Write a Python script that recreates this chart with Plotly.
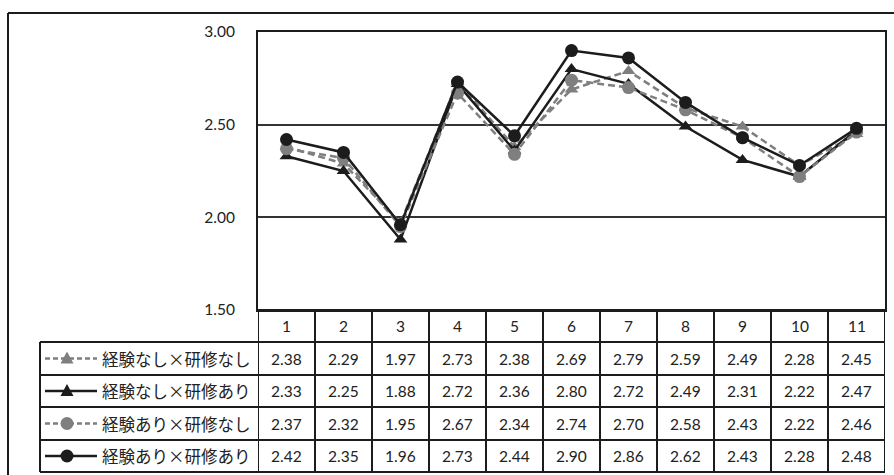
import plotly.graph_objects as go

categories = [1, 2, 3, 4, 5, 6, 7, 8, 9, 10, 11]
series_names = ["経験なし×研修なし", "経験なし×研修あり", "経験あり×研修なし", "経験あり×研修あり"]
s_nn = [2.38, 2.29, 1.97, 2.73, 2.38, 2.69, 2.79, 2.59, 2.49, 2.28, 2.45]
s_na = [2.33, 2.25, 1.88, 2.72, 2.36, 2.80, 2.72, 2.49, 2.31, 2.22, 2.47]
s_an = [2.37, 2.32, 1.95, 2.67, 2.34, 2.74, 2.70, 2.58, 2.43, 2.22, 2.46]
s_aa = [2.42, 2.35, 1.96, 2.73, 2.44, 2.90, 2.86, 2.62, 2.43, 2.28, 2.48]
y_ticks = [1.5, 2.0, 2.5, 3.0]

series_values = [s_nn, s_na, s_an, s_aa]
GRAY = "#7f7f7f"
BLACK = "#1c1c1c"
styles = [
    dict(color=GRAY, dash="7px,4px", symbol="triangle-up", size=12),
    dict(color=BLACK, dash="solid", symbol="triangle-up", size=12),
    dict(color=GRAY, dash="7px,4px", symbol="circle", size=13),
    dict(color=BLACK, dash="solid", symbol="circle", size=13),
]

W, H = 894, 475
def px(x):
    return x / W
def py(y):
    return 1 - y / H

PL, PR, PT, PB = 258, 885, 32, 310
row_edges = [310, 342, 375, 407, 440, 472]
LEG_L = 40

fig = go.Figure()
for name, vals, st in zip(series_names, series_values, styles):
    fig.add_trace(go.Scatter(
        x=categories, y=vals, name=name, mode="lines+markers",
        line=dict(color=st["color"], width=2.5, dash=st["dash"]),
        marker=dict(symbol=st["symbol"], size=st["size"], color=st["color"]),
        showlegend=False, cliponaxis=False,
    ))

shapes = []
annotations = []
LINE = dict(color=BLACK, width=2)

# outer border (top and left edges visible)
shapes.append(dict(type="line", xref="paper", yref="paper",
                   x0=px(8), x1=1, y0=py(13), y1=py(13), line=LINE))
shapes.append(dict(type="line", xref="paper", yref="paper",
                   x0=px(8), x1=px(8), y0=0, y1=py(13), line=LINE))
# horizontal table lines
shapes.append(dict(type="line", xref="paper", yref="paper",
                   x0=px(PL), x1=px(PR), y0=py(row_edges[0]), y1=py(row_edges[0]), line=LINE))
for ye in row_edges[1:]:
    shapes.append(dict(type="line", xref="paper", yref="paper",
                       x0=px(LEG_L), x1=px(PR), y0=py(ye), y1=py(ye), line=LINE))
# vertical lines
shapes.append(dict(type="line", xref="paper", yref="paper",
                   x0=px(LEG_L), x1=px(LEG_L), y0=py(row_edges[1]), y1=py(row_edges[-1]), line=LINE))
for k in range(len(categories) + 1):
    xv = categories[0] - 0.5 + k
    shapes.append(dict(type="line", xref="x", yref="paper",
                       x0=xv, x1=xv, y0=py(row_edges[0]), y1=py(row_edges[-1]), line=LINE))

NUMFONT = dict(family="Lato", size=15.5, color="#222")

# header row
hy = (row_edges[0] + row_edges[1]) / 2
for c in categories:
    annotations.append(dict(x=c, y=py(hy), xref="x", yref="paper", text=str(c),
                            xanchor="center", yanchor="middle",
                            showarrow=False, font=NUMFONT))

# data rows + legend keys
for i, (name, vals, st) in enumerate(zip(series_names, series_values, styles)):
    cy = (row_edges[i + 1] + row_edges[i + 2]) / 2
    for c, v in zip(categories, vals):
        annotations.append(dict(x=c, y=py(cy), xref="x", yref="paper", text=f"{v:.2f}",
                                xanchor="center", yanchor="middle",
                                showarrow=False, font=NUMFONT))
    dash = "solid" if st["dash"] == "solid" else "5px,3px"
    shapes.append(dict(type="line", xref="paper", yref="paper",
                       x0=px(45), x1=px(97), y0=py(cy), y1=py(cy),
                       line=dict(color=st["color"], width=2.5, dash=dash)))
    mx = 67
    if st["symbol"] == "circle":
        r = 6.5
        shapes.append(dict(type="circle", xref="paper", yref="paper",
                           x0=px(mx - r), x1=px(mx + r), y0=py(cy + r), y1=py(cy - r),
                           fillcolor=st["color"], line=dict(width=0)))
    else:
        x0, x1, xm = px(mx - 6.5), px(mx + 6.5), px(mx)
        yb, yt = py(cy + 5), py(cy - 7)
        shapes.append(dict(type="path", xref="paper", yref="paper",
                           path=f"M {x0} {yb} L {x1} {yb} L {xm} {yt} Z",
                           fillcolor=st["color"], line=dict(width=0)))
    annotations.append(dict(x=px(100), y=py(cy), xref="paper", yref="paper", text=name,
                            xanchor="left", yanchor="middle", showarrow=False,
                            font=dict(family="Noto Sans CJK JP", size=16.5, color="#222")))

fig.update_layout(
    width=W, height=H, margin=dict(l=0, r=0, t=0, b=0, autoexpand=False),
    paper_bgcolor="white", plot_bgcolor="white",
    xaxis=dict(domain=[px(PL), px(PR)], range=[0.5, 11.5], showticklabels=False,
               showgrid=False, zeroline=False, showline=True, mirror=True,
               linecolor=BLACK, linewidth=2, ticks="", automargin=False),
    yaxis=dict(domain=[py(PB), py(PT)], range=[1.5, 3.0], tickvals=y_ticks,
               tickformat=".2f", showgrid=True, gridcolor="#333", gridwidth=1.5,
               zeroline=False, showline=True, mirror=True, linecolor=BLACK, linewidth=2,
               ticks="", ticklabelstandoff=18, automargin=False,
               tickfont=NUMFONT),
    shapes=shapes, annotations=annotations,
)

post = ("document.body.style.margin='0';"
        "document.documentElement.style.overflow='hidden';"
        "var gd=document.getElementById('{plot_id}');"
        "gd.style.position='fixed';gd.style.top='0px';gd.style.left='0px';")
fig.write_html("out.html", config={"displayModeBar": False}, post_script=post)
